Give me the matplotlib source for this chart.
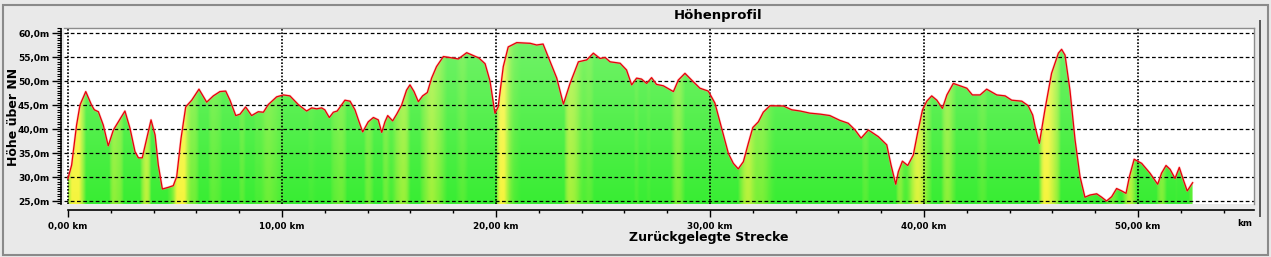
"""Hoehenprofil: elevation profile along the distance travelled."""
import numpy as np
import matplotlib

matplotlib.use("Agg")
import matplotlib.pyplot as plt
from matplotlib.patches import Polygon, Rectangle
from matplotlib.ticker import FixedLocator, MultipleLocator

# distance travelled (km) and elevation (m)
km = [
    0.00, 0.17, 0.40, 0.56, 0.83, 1.10, 1.23, 1.42, 1.65, 1.88, 2.12, 2.35,
    2.66, 2.90, 3.13, 3.29, 3.47, 3.68, 3.88, 4.07, 4.22, 4.41, 4.69, 4.92,
    5.08, 5.28, 5.50, 5.78, 6.12, 6.48, 6.79, 7.10, 7.37, 7.57, 7.84, 8.04,
    8.30, 8.58, 8.89, 9.13, 9.36, 9.75, 10.06, 10.37, 10.76, 11.15, 11.39,
    11.62, 11.85, 12.00, 12.21, 12.40, 12.58, 12.94, 13.18, 13.41, 13.57,
    13.77, 14.03, 14.27, 14.50, 14.66, 14.81, 14.94, 15.17, 15.36, 15.59,
    15.82, 15.98, 16.17, 16.37, 16.57, 16.79, 16.99, 17.22, 17.54, 18.24,
    18.63, 19.20, 19.49, 19.72, 19.95, 20.10, 20.34, 20.57, 20.97, 21.60,
    21.90, 22.20, 22.50, 22.84, 23.15, 23.46, 23.85, 24.24, 24.55, 24.86,
    25.10, 25.33, 25.80, 26.10, 26.34, 26.57, 26.80, 27.04, 27.27, 27.50,
    27.82, 28.29, 28.52, 28.83, 29.14, 29.53, 29.92, 30.23, 30.55, 30.86,
    31.09, 31.32, 31.56, 31.79, 32.00, 32.26, 32.49, 32.80, 33.43, 33.82,
    34.21, 34.67, 35.14, 35.60, 36.07, 36.46, 36.78, 37.06, 37.40, 37.87,
    38.26, 38.46, 38.68, 38.80, 38.99, 39.24, 39.50, 39.71, 39.93, 40.13,
    40.36, 40.60, 40.86, 41.07, 41.37, 41.68, 42.00, 42.26, 42.62, 42.93,
    43.40, 43.79, 44.10, 44.57, 44.87, 45.08, 45.19, 45.39, 45.65, 45.96,
    46.28, 46.43, 46.59, 46.82, 47.06, 47.29, 47.52, 47.76, 48.07, 48.30,
    48.53, 48.77, 49.00, 49.24, 49.44, 49.60, 49.82, 50.17, 50.56, 50.92,
    51.10, 51.31, 51.50, 51.73, 51.93, 52.12, 52.30, 52.55,
]
elev = [
    29.7, 32.5, 40.8, 45.0, 47.8, 45.0, 44.0, 43.6, 40.8, 36.5, 39.8, 41.5,
    43.75, 40.1, 35.3, 34.0, 34.0, 38.0, 41.9, 38.75, 32.5, 27.5, 27.85, 28.2,
    30.1, 38.0, 44.6, 46.0, 48.3, 45.6, 46.9, 47.8, 47.9, 46.0, 42.8, 43.1,
    44.6, 42.8, 43.6, 43.5, 45.1, 46.7, 47.1, 46.9, 45.1, 43.75, 44.4,
    44.2, 44.4, 44.0, 42.4, 43.5, 43.75, 46.0, 45.8, 44.0, 41.9,
    39.4, 41.5, 42.4, 41.9, 39.3, 41.5, 42.8, 41.7, 43.1, 45.0,
    48.1, 49.2, 47.8, 45.7, 46.9, 47.6, 50.6, 53.0, 55.1, 54.6,
    55.9, 54.8, 53.6, 50.0, 43.3, 44.6, 53.0, 57.1, 58.0, 57.85,
    57.5, 57.7, 54.4, 50.6, 45.2, 49.5, 54.0, 54.4, 55.8, 54.7,
    54.9, 54.0, 53.7, 52.3, 49.2, 50.6, 50.4, 49.5, 50.7, 49.3,
    49.0, 47.8, 50.2, 51.6, 50.2, 48.5, 47.9, 45.4, 40.1, 34.9,
    32.85, 31.7, 33.2, 37.0, 40.3, 41.5, 43.5, 44.85, 44.8, 44.0,
    43.75, 43.3, 43.1, 42.8, 41.8, 41.2, 39.8, 38.1, 39.8, 38.4,
    36.7, 32.5, 28.5, 31.1, 33.3, 32.4, 34.6, 39.4, 44.0, 45.8,
    46.9, 46.0, 44.3, 47.1, 49.5, 49.0, 48.5, 47.1, 47.1, 48.3,
    47.1, 46.9, 46.0, 45.8, 44.85, 42.9, 40.5, 37.0, 44.0, 51.6,
    55.8, 56.6, 55.4, 48.1, 37.7, 30.1, 25.8, 26.25, 26.5, 25.8,
    25.0, 25.9, 27.6, 27.1, 26.6, 30.1, 33.7, 32.85, 30.8, 28.5,
    30.8, 32.4, 31.6, 29.7, 32.0, 29.4, 27.1, 28.8,
]

x_ticks = [0, 10, 20, 30, 40, 50]
x_labels = ["0,00 km", "10,00 km", "20,00 km", "30,00 km", "40,00 km", "50,00 km"]
y_ticks = [25, 30, 35, 40, 45, 50, 55, 60]
y_labels = ["25,0m", "30,0m", "35,0m", "40,0m", "45,0m", "50,0m", "55,0m", "60,0m"]

W, H = 1271, 257
fig = plt.figure(figsize=(W / 100, H / 100), dpi=100, facecolor="#e9e9e9")

# plot area in pixel coords -> figure fraction
left, right, top, bottom = 64, 1254, 28, 204
ax = fig.add_axes([left / W, 1 - bottom / H, (right - left) / W, (bottom - top) / H])
x_lo, x_hi = (left - 68) / 21.4, (right - 68) / 21.4
y_lo, y_hi = 25 + (201 - bottom) / 4.8, 25 + (201 - top) / 4.8
ax.set_xlim(x_lo, x_hi)
ax.set_ylim(y_lo, y_hi)
ax.set_facecolor("white")

# fill coloured by uphill gradient (green = flat, yellow = steep climb)
km_arr = np.array(km)
elev_arr = np.array(elev)
xs = np.linspace(km_arr[0], km_arr[-1], 1400)
ys = np.interp(xs, km_arr, elev_arr)
slope = np.gradient(ys, xs)
kernel = np.hanning(21)
kernel /= kernel.sum()
climb = np.clip(np.convolve(slope, kernel, mode="same") / 24.0, 0, 1) ** 0.85
green = np.array([0.22, 0.93, 0.20])
yellow = np.array([0.96, 0.96, 0.24])
col = green[None, :] + climb[:, None] * (yellow - green)[None, :]
yy = np.linspace(y_lo, 60, 120)
light = np.clip((yy - y_lo) / (60 - y_lo), 0, 1)[:, None, None] * 0.30
img = col[None, :, :] * (1 - light) + light * np.array([1.0, 1.0, 0.92])
im = ax.imshow(img, extent=[xs[0], xs[-1], y_lo, 60], origin="lower",
               aspect="auto", interpolation="bilinear", zorder=1)
verts = [(km[0], y_lo)] + list(zip(km, elev)) + [(km[-1], y_lo)]
clip = Polygon(verts, closed=True, transform=ax.transData, facecolor="none",
               edgecolor="none")
ax.add_patch(clip)
im.set_clip_path(clip)

# grid
for yv in y_ticks:
    ax.axhline(yv, color="black", lw=0.9, ls=(0, (3, 2)), zorder=2)
for xv in x_ticks:
    ax.axvline(xv, color="black", lw=1.2, ls=(0, (1, 1)), zorder=2)

# profile line
ax.plot(km, elev, color="#ff9090", lw=1.8, alpha=0.45, zorder=3,
        solid_joinstyle="round")
ax.plot(km, elev, color="#e8000a", lw=0.9, zorder=4, solid_joinstyle="round")

# axes styling
for s in ("top", "right"):
    ax.spines[s].set_color("#8c8c8c")
    ax.spines[s].set_linewidth(1.0)
ax.spines["left"].set_position(("outward", 2))
ax.spines["left"].set_bounds(y_lo, 60.8)
ax.spines["bottom"].set_position(("outward", 4))
ax.spines["bottom"].set_bounds(0, x_hi)
ax.spines["left"].set_linewidth(1.2)
ax.spines["bottom"].set_linewidth(1.2)

ax.yaxis.set_major_locator(FixedLocator(y_ticks))
ax.set_yticklabels(y_labels, fontsize=6.5, fontweight="bold")
ax.yaxis.set_minor_locator(MultipleLocator(0.5))
ax.tick_params(axis="y", which="major", length=6.5, width=1.0, pad=2)
ax.tick_params(axis="y", which="minor", length=3, width=0.8)

ax.xaxis.set_major_locator(FixedLocator(x_ticks))
ax.set_xticklabels(x_labels, fontsize=6.3, fontweight="bold")
ax.xaxis.set_minor_locator(FixedLocator(np.arange(2, 55, 2)))
ax.tick_params(axis="x", which="major", length=5, width=1.0, pad=4)
ax.tick_params(axis="x", which="minor", length=2.5, width=1.0)

# texts
fig.text(1245 / W, 1 - 223 / H, "km", fontsize=6.3, fontweight="bold",
         ha="center", va="center")
fig.text(718 / W, 1 - 15 / H, "Höhenprofil", fontsize=9.5, fontweight="bold",
         ha="center", va="center")
fig.text(709 / W, 1 - 238 / H, "Zurückgelegte Strecke", fontsize=9,
         fontweight="bold", ha="center", va="center")
fig.text(14 / W, 1 - 117 / H, "Höhe über NN", fontsize=9, fontweight="bold",
         rotation=90, ha="center", va="center")

# window frame
fig.add_artist(Rectangle((2.5 / W, 2.5 / H), (W - 6) / W, (H - 7) / H,
                         transform=fig.transFigure, fill=False,
                         edgecolor="#8a8a8a", lw=1.5))
fig.add_artist(Rectangle((1259 / W, 1 - 217 / H), 1.5 / W, 197 / H,
                         transform=fig.transFigure, facecolor="#5a5a5a",
                         edgecolor="none"))

fig.savefig("out.png", dpi=100, facecolor=fig.get_facecolor())
